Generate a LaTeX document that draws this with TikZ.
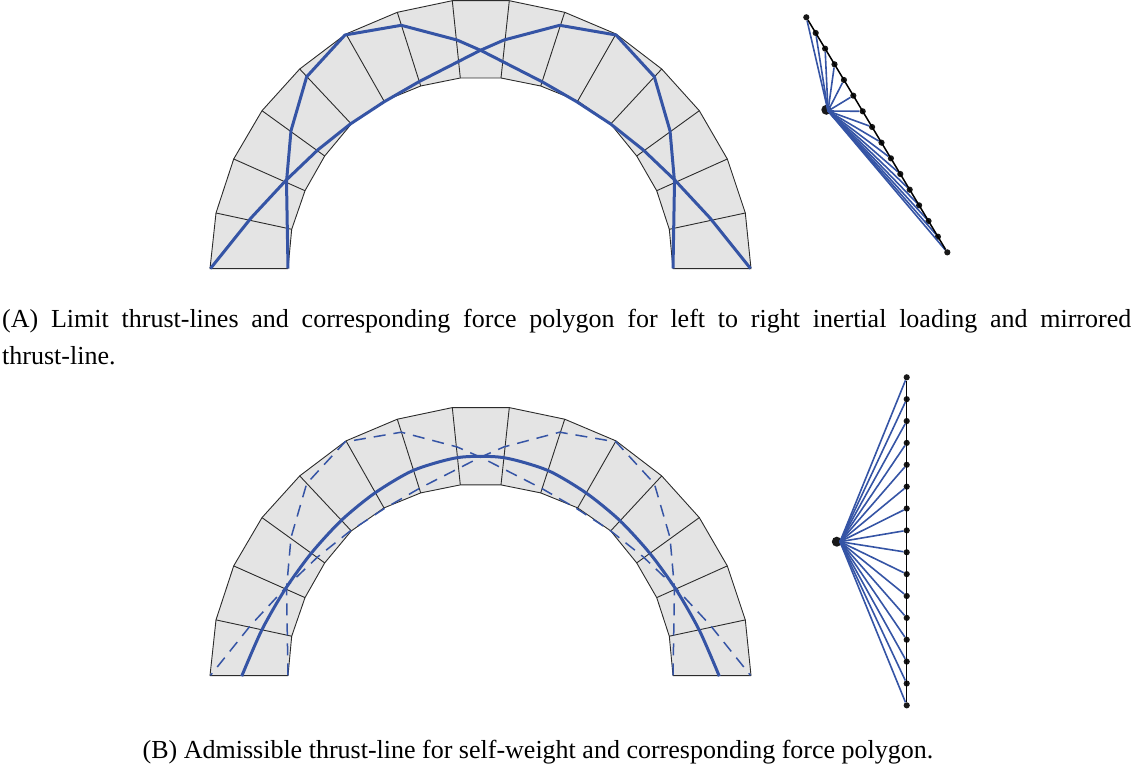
\documentclass[tikz,border=0pt]{standalone}
\usepackage{fontspec}
\setmainfont{Liberation Serif}
\definecolor{thrustBlue}{HTML}{3554A5}
\definecolor{stoneGray}{HTML}{E4E4E4}
\definecolor{inkGray}{HTML}{2B2B2B}
\tikzset{
    stone/.style={draw=inkGray,fill=stoneGray,line width=.9pt,line join=round},
    joint/.style={draw=inkGray,line width=.9pt},
    thrust/.style={draw=thrustBlue,line width=3pt,line join=round},
    thrustDash/.style={draw=thrustBlue,line width=1.5pt,dash pattern=on 12pt off 8pt},
    ray/.style={draw=thrustBlue,line width=1.6pt},
    chord/.style={draw=black,line width=1.5pt},
    dot/.style={circle,fill=black!90,inner sep=0,minimum size=6.2pt},
    pole/.style={circle,fill=black!90,inner sep=0,minimum size=10pt},
    caption/.style={font=\fontsize{26}{36.5}\selectfont,inner sep=0}
}
\newcommand{\archStones}{%
    \foreach \i/\ex/\ey/\nx/\ny in {1/210/268.7/288/268.7,2/216/213/291.7/229.3,3/233.7/159/305/190.7,
        4/262/110.7/324.7/156,5/299.7/69/351.3/124,6/346/34/384/101,7/397.3/12.3/420.7/86,8/452.3/.7/460.3/78,
        9/509.3/.7/501/78,10/564.7/12.3/540.7/86,11/616/34/577.7/101,12/661.7/69/610.7/124,
        13/699.3/110.7/636.7/156,14/727.3/159/656.7/190.7,15/745.3/213/669.3/229.3,16/751/268.7/673/268.7}{
        \coordinate (e\i) at (\ex,\ey);
        \coordinate (n\i) at (\nx,\ny);
    }
    \draw[stone] (e1) \foreach \i in {2,...,16}{-- (e\i)} -- (n16) \foreach \i in {15,...,1}{-- (n\i)} -- cycle;
    \foreach \i in {2,...,15}
        \draw[joint] (e\i) -- (n\i);
}
\newcommand{\limitLine}{(288,268.5) -- (286.5,181.7) -- (291,130.7) -- (306.7,76.7) -- (345,35) -- (401.3,25.3)
    -- (457,40) -- (481,50.5) -- (542,81.7) -- (576.7,101.7) -- (610.7,124) -- (643.3,150) -- (674.7,180)
    -- (710,218) -- (750.5,268.5)}
\begin{document}
\begin{tikzpicture}[x=1pt,y=-1pt]
    \useasboundingbox (0,0) rectangle (1131,775);

    % arch A
    \archStones
    \draw[thrust] \limitLine;
    \begin{scope}[xshift=961pt,xscale=-1]
        \draw[thrust] \limitLine;
    \end{scope}

    % force polygon A
    \foreach \i in {0,...,15}
        \node[dot] (a\i) at ({806.3+\i*9.4},{17.3+\i*15.67}) {};
    \node[pole] (poleA) at (826.3,109.8) {};
    \coordinate (focusA) at (828,111);
    \foreach \i in {0,...,15}
        \draw[ray] (focusA) -- (a\i);
    \draw[chord] (a0) -- (a15);

    \node[caption,anchor=north west,text width=1129pt,align=justify] (captionA) at (2,309)
        {(A) Limit thrust-lines and corresponding force polygon for left to right inertial loading and mirrored\linebreak thrust-line.};

    % arch B
    \begin{scope}[yshift=-406.9pt]
        \archStones
        \draw[thrustDash] \limitLine;
        \begin{scope}[xshift=961pt,xscale=-1]
            \draw[thrustDash] \limitLine;
        \end{scope}
        \draw[thrust] plot[smooth,tension=.45] coordinates {(241.7,269.3) (261.7,223.3) (285,182.6) (311.5,146) (341.5,113.3) (375,86)
            (413.3,63.5) (458.3,50.6) (502.7,50.6) (547.7,63.5) (586,86) (619.5,113.3)
            (649.5,146) (676,182.6) (699.3,223.3) (719.3,269.3)};
    \end{scope}

    % force polygon B
    \foreach \i in {0,...,15}
        \node[dot] (b\i) at ({906.7},{377.3+\i*21.87}) {};
    \node[pole] (poleB) at (836.8,541.7) {};
    \coordinate (focusB) at (840,541.7);
    \foreach \i in {0,...,15}
        \draw[ray] (focusB) -- (b\i);
    \draw[chord] (b0) -- (b15);

    \node[caption,anchor=north] (captionB) at (538,740)
        {(B) Admissible thrust-line for self-weight and corresponding force polygon.};
\end{tikzpicture}
\end{document}
